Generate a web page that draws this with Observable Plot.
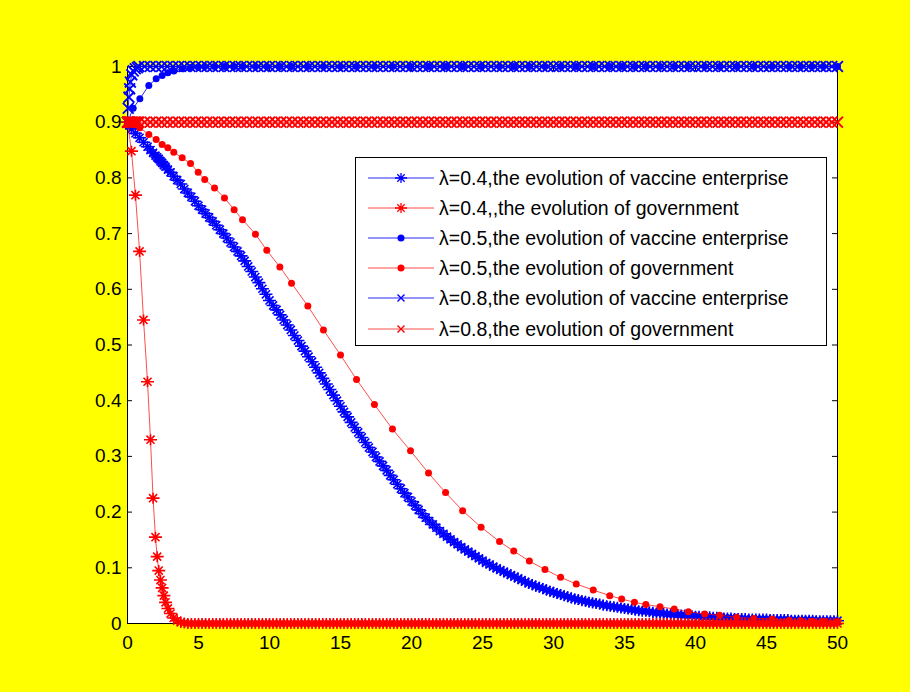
<!DOCTYPE html>
<html><head><meta charset="utf-8">
<script src="https://cdn.jsdelivr.net/npm/d3@7"></script>
<script src="https://cdn.jsdelivr.net/npm/@observablehq/plot@0.6"></script>
<style>
html,body{margin:0;padding:0;background:#ffff00;}
#wrap{position:relative;width:910px;height:692px;background:#ffff00;font-family:"Liberation Sans",Arial,sans-serif;}
#legend{position:absolute;left:355px;top:157px;width:472px;height:189px;background:#fff;border:1px solid #000;box-sizing:border-box;}
.row{position:absolute;left:0;width:470px;height:30px;}
.row svg{position:absolute;left:10px;top:0;}
.row span{position:absolute;left:83px;top:3px;font-size:19.5px;line-height:24px;color:#000;white-space:nowrap;}
</style></head>
<body><div id="wrap"></div>
<script>
// ---------- axes ----------
const xTicks = [0,5,10,15,20,25,30,35,40,45,50];
const yTicks = [0,0.1,0.2,0.3,0.4,0.5,0.6,0.7,0.8,0.9,1];
const yTickLabels = ["0","0.1","0.2","0.3","0.4","0.5","0.6","0.7","0.8","0.9","1"];

// ---------- legend ----------
const legendLabels = [
  "λ=0.4,the evolution of vaccine enterprise",
  "λ=0.4,,the evolution of government",
  "λ=0.5,the evolution of vaccine enterprise",
  "λ=0.5,the evolution of government",
  "λ=0.8,the evolution of vaccine enterprise",
  "λ=0.8,the evolution of government"
];
const legendColors = ["#0000ff","#ff0000","#0000ff","#ff0000","#0000ff","#ff0000"];
const legendMarkers = ["star","star","dot","dot","times","times"];

// ---------- λ = 0.4 (dense solver output) ----------
const t04Early   = [0,0.28,0.56,0.85,1.13,1.41,1.62,1.8,1.97,2.09,2.2,2.32,2.44,2.56,2.68,2.85,3.03,3.25,3.5,3.75];
const ent04Early = [0.9,0.888,0.88,0.872,0.864,0.856,0.85,0.845,0.84,0.837,0.834,0.83,0.827,0.823,0.82,0.815,0.81,0.803,0.796,0.789];
const gov04Early = [0.9,0.848,0.769,0.668,0.545,0.434,0.33,0.225,0.155,0.12,0.095,0.078,0.064,0.05,0.038,0.027,0.018,0.01,0.005,0.002];
const t04TailStart = 4, t04TailStep = 0.25;
const ent04Tail = [
 .780,.773,.766,.758, .750,.743,.736,.729, .722,.715,.707,.700, .692,.684,.676,.668,
 .660,.651,.641,.632, .622,.612,.601,.591, .580,.571,.563,.554, .545,.536,.527,.517,
 .508,.498,.489,.479, .470,.460,.450,.440, .430,.420,.410,.400, .390,.380,.371,.361,
 .352,.343,.334,.325, .316,.308,.299,.291, .283,.275,.266,.258, .250,.242,.234,.227,
 .219,.212,.204,.197, .190,.184,.178,.172, .166,.161,.156,.151, .146,.142,.137,.133,
 .129,.125,.121,.117, .113,.109,.106,.102, .099,.096,.093,.090, .087,.084,.081,.078,
 .075,.072,.070,.067, .065,.063,.060,.058, .056,.054,.052,.050, .048,.046,.044,.043,
 .041,.040,.038,.037, .036,.035,.033,.032, .031,.030,.029,.028, .027,.026,.025,.024,
 .023,.022,.022,.021, .020,.019,.019,.018, .017,.017,.016,.016, .015,.015,.014,.014,
 .013,.013,.012,.012, .012,.011,.011,.010, .010,.010,.010,.009, .009,.009,.009,.008,
 .008,.008,.008,.008, .008,.007,.007,.007, .007,.007,.007,.006, .006,.006,.006,.006,
 .006,.006,.005,.005, .005,.005,.005,.005, .005
];
const gov04Tail = [
 .001,0,0,0, 0,0,0,0, 0,0,0,0, 0,0,0,0, 0,0,0,0, 0,0,0,0, 0,0,0,0, 0,0,0,0,
 0,0,0,0, 0,0,0,0, 0,0,0,0, 0,0,0,0, 0,0,0,0, 0,0,0,0, 0,0,0,0, 0,0,0,0,
 0,0,0,0, 0,0,0,0, 0,0,0,0, 0,0,0,0, 0,0,0,0, 0,0,0,0, 0,0,0,0, 0,0,0,0,
 0,0,0,0, 0,0,0,0, 0,0,0,0, 0,0,0,0, 0,0,0,0, 0,0,0,0, 0,0,0,0, 0,0,0,0,
 0,0,0,0, 0,0,0,0, 0,0,0,0, 0,0,0,0, 0,0,0,0, 0,0,0,0, 0,0,0,0, 0,0,0,0,
 0,0,0,0, 0,0,0,0, 0,0,0,0, 0,0,0,0, 0,0,0,0, 0,0,0,0, 0,0,0,0, 0
];

// ---------- λ = 0.5 ----------
const t05 = [0,0.4,0.87,1.5,2.02,2.44,2.84,3.26,3.85,4.44,4.98,5.44,6.13,6.83,7.51,8.1,9.01,9.81,10.73,11.55,
  12.7,13.8,15.0,16.13,17.39,18.66,19.93,21.2,22.4,23.6,24.9,26.2,27.2,28.3,29.4,30.5,31.6,32.8,33.96,34.8,
  35.7,36.5,37.5,38.5,39.5,40.65,41.7,42.9,44.1,45.4,46.6,47.4,48.2,49.0,50];
const ent05 = [0.9,0.925,0.942,0.966,0.978,0.984,0.989,0.992,0.996,0.998,0.999,
  1,1,1,1,1,1,1,1,1,1, 1,1,1,1,1,1,1,1,1,1, 1,1,1,1,1,1,1,1,1,1, 1,1,1,1,1,1,1,1,1,1, 1,1,1,1];
const gov05 = [0.9,0.896,0.89,0.878,0.869,0.86,0.854,0.846,0.836,0.826,0.81,0.797,0.782,0.764,0.743,0.725,0.699,0.67,0.64,0.611,
  0.57,0.527,0.482,0.438,0.393,0.349,0.31,0.27,0.235,0.2025,0.173,0.147,0.13,0.112,0.097,0.083,0.071,0.06,0.05,0.044,
  0.038,0.034,0.03,0.026,0.021,0.017,0.015,0.011,0.009,0.008,0.006,0.005,0.004,0.004,0.003];

// ---------- λ = 0.8 (dense solver output) ----------
const t08Early   = [0,0.05,0.1,0.15,0.2,0.3,0.4,0.55,0.7];
const ent08Early = [0.9,0.925,0.945,0.96,0.972,0.985,0.992,0.996,0.998];
const gov08Early = [0.9,0.9,0.9,0.9,0.9,0.9,0.9,0.9,0.9];
const t08TailStart = 0.8, t08TailStep = 0.4;
const ent08Tail = [
 1,1,1,1,1,1,1,1,1,1, 1,1,1,1,1,1,1,1,1,1, 1,1,1,1,1,1,1,1,1,1, 1,1,1,1,1,1,1,1,1,1,
 1,1,1,1,1,1,1,1,1,1, 1,1,1,1,1,1,1,1,1,1, 1,1,1,1,1,1,1,1,1,1, 1,1,1,1,1,1,1,1,1,1,
 1,1,1,1,1,1,1,1,1,1, 1,1,1,1,1,1,1,1,1,1, 1,1,1,1,1,1,1,1,1,1, 1,1,1,1,1,1,1,1,1,1,
 1,1,1,1
];
const gov08Tail = [
 .9,.9,.9,.9,.9,.9,.9,.9,.9,.9, .9,.9,.9,.9,.9,.9,.9,.9,.9,.9, .9,.9,.9,.9,.9,.9,.9,.9,.9,.9, .9,.9,.9,.9,.9,.9,.9,.9,.9,.9,
 .9,.9,.9,.9,.9,.9,.9,.9,.9,.9, .9,.9,.9,.9,.9,.9,.9,.9,.9,.9, .9,.9,.9,.9,.9,.9,.9,.9,.9,.9, .9,.9,.9,.9,.9,.9,.9,.9,.9,.9,
 .9,.9,.9,.9,.9,.9,.9,.9,.9,.9, .9,.9,.9,.9,.9,.9,.9,.9,.9,.9, .9,.9,.9,.9,.9,.9,.9,.9,.9,.9, .9,.9,.9,.9,.9,.9,.9,.9,.9,.9,
 .9,.9,.9,.9
];

// ---------- build tables ----------
function rows(tEarly, vEarly, start, step, vTail) {
  const out = tEarly.map((t, i) => ({t, v: vEarly[i]}));
  vTail.forEach((v, i) => out.push({t: start + i * step, v}));
  return out.filter(d => d.t <= 50.0001 && d.v != null);
}
const sEnt04 = rows(t04Early, ent04Early, t04TailStart, t04TailStep, ent04Tail);
const sGov04 = rows(t04Early, gov04Early, t04TailStart, t04TailStep, gov04Tail);
const sEnt05 = t05.map((t, i) => ({t, v: ent05[i]}));
const sGov05 = t05.map((t, i) => ({t, v: gov05[i]}));
const sEnt08 = rows(t08Early, ent08Early, t08TailStart, t08TailStep, ent08Tail);
const sGov08 = rows(t08Early, gov08Early, t08TailStart, t08TailStep, gov08Tail);

// MATLAB-like asterisk (plus + x, wide horizontal arm)
const symbolStar = {
  draw(ctx, size) {
    const r = Math.sqrt(size / Math.PI), d = r * 0.62;
    ctx.moveTo(-r, 0); ctx.lineTo(r, 0);
    ctx.moveTo(0, -r * 0.85); ctx.lineTo(0, r * 0.85);
    ctx.moveTo(-d, -d); ctx.lineTo(d, d);
    ctx.moveTo(-d, d); ctx.lineTo(d, -d);
  }
};

const BLUE = "#0000ff", RED = "#ff0000";
function seriesMarks(data, color, marker) {
  const line = Plot.line(data, {x: "t", y: "v", stroke: color, strokeWidth: 1, strokeOpacity: color === RED ? 0.7 : 0.85});
  let dot;
  if (marker === "star") dot = Plot.dot(data, {x: "t", y: "v", symbol: symbolStar, r: 6.5, stroke: color, fill: "none", strokeWidth: 1.6});
  else if (marker === "times") dot = Plot.dot(data, {x: "t", y: "v", symbol: "times", r: 5, stroke: color, fill: "none", strokeWidth: 1.9});
  else dot = Plot.dot(data, {x: "t", y: "v", r: 3.5, fill: color, stroke: "none"});
  return [line, dot];
}

const W = 910, H = 692, ML = 127, MR = 73, MT = 66, MB = 69;
const innerW = W - ML - MR, innerH = H - MT - MB, tick = 5;

const chart = Plot.plot({
  width: W, height: H,
  marginLeft: ML, marginRight: MR, marginTop: MT, marginBottom: MB,
  style: {background: "#ffff00", fontFamily: "'Liberation Sans', Arial, sans-serif", fontSize: "19px", color: "#000", overflow: "visible"},
  x: {domain: [0, 50]},
  y: {domain: [0, 1]},
  marks: [
    Plot.frame({fill: "#ffffff", stroke: "#000", strokeWidth: 1}),
    Plot.axisX(xTicks, {anchor: "bottom", tickSize: 0, tickPadding: 12, label: null, tickFormat: d => String(d)}),
    Plot.axisY(yTicks, {anchor: "left", tickSize: 0, tickPadding: 6, label: null, tickFormat: d => yTickLabels[yTicks.indexOf(d)]}),
    Plot.ruleX(xTicks, {x: d => d, insetTop: innerH - tick, stroke: "#000"}),
    Plot.ruleX(xTicks, {x: d => d, insetBottom: innerH - tick, stroke: "#000"}),
    Plot.ruleY(yTicks, {y: d => d, insetRight: innerW - tick, stroke: "#000"}),
    Plot.ruleY(yTicks, {y: d => d, insetLeft: innerW - tick, stroke: "#000"}),
    ...seriesMarks(sEnt04, BLUE, "star"),
    ...seriesMarks(sGov04, RED, "star"),
    ...seriesMarks(sEnt05, BLUE, "dot"),
    ...seriesMarks(sGov05, RED, "dot"),
    ...seriesMarks(sEnt08, BLUE, "times"),
    ...seriesMarks(sGov08, RED, "times")
  ]
});
const wrap = document.getElementById("wrap");
wrap.appendChild(chart);

// legend (HTML overlay)
const legend = document.createElement("div");
legend.id = "legend";
const rowTops = [5, 35, 65, 95, 125, 156];
legendLabels.forEach((lab, i) => {
  const row = document.createElement("div");
  row.className = "row";
  row.style.top = rowTops[i] + "px";
  const c = legendColors[i], m = legendMarkers[i];
  let mk = "";
  if (m === "star") mk = `<path d="M29,15h12M35,10v10M31.3,11.3l7.4,7.4M31.3,18.7l7.4,-7.4" stroke="${c}" stroke-width="1.3" fill="none"/>`;
  else if (m === "dot") mk = `<circle cx="35" cy="15" r="3.5" fill="${c}"/>`;
  else mk = `<path d="M31.5,11.5l7,7M31.5,18.5l7,-7" stroke="${c}" stroke-width="1.4" fill="none"/>`;
  row.innerHTML = `<svg width="72" height="30"><line x1="2" y1="15" x2="68" y2="15" stroke="${c}" stroke-opacity="${c===RED?0.7:0.85}"/>${mk}</svg><span>${lab}</span>`;
  legend.appendChild(row);
});
wrap.appendChild(legend);
</script>
</body></html>
